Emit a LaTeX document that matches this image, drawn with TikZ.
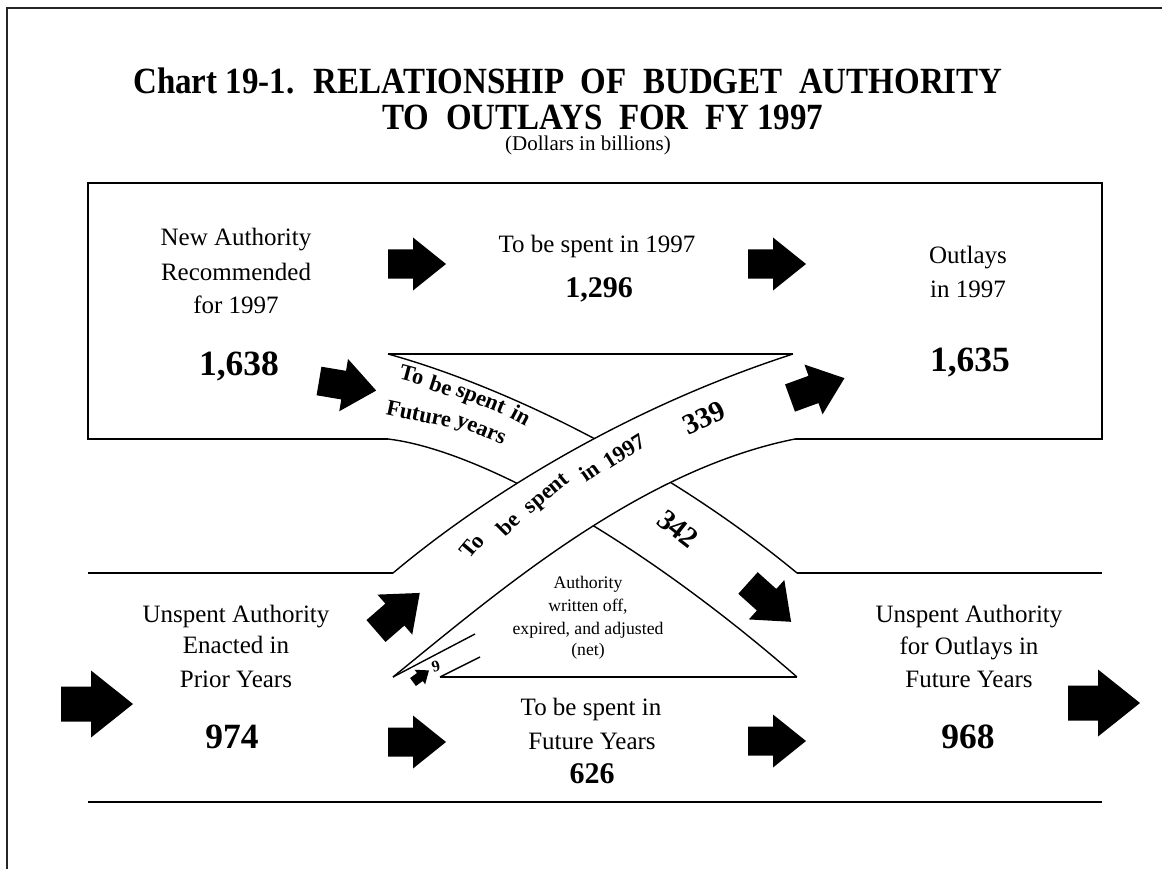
\documentclass[tikz,border=0pt]{standalone}
\usepackage{graphicx}
\usepackage{fontspec}
\setmainfont{Liberation Serif}
\newcommand\myfs[2]{\fontsize{#1}{#2}\selectfont}
\newcommand\tallbox[1]{\scalebox{1}[1.12]{#1}}
\tikzset{
  smallarrow/.pic={\fill (0,-14.5) -- (25,-14.5) -- (25,-26.5) -- (58,0) -- (25,26.5) -- (25,14.5) -- (0,14.5) -- cycle;},
  bigarrow/.pic={\fill (0,-17.5) -- (30,-17.5) -- (30,-33.5) -- (72,0) -- (30,33.5) -- (30,17.5) -- (0,17.5) -- cycle;},
  txt/.style={inner sep=0pt, anchor=base, font=\myfs{25}{30}},
  smalltxt/.style={inner sep=0pt, anchor=base, font=\myfs{17.7}{22}},
  bignum/.style={inner sep=0pt, anchor=base, font=\bfseries\myfs{35.5}{40}},
  midnum/.style={inner sep=0pt, anchor=base, font=\bfseries\myfs{30}{34}},
  titletxt/.style={inner sep=0pt, anchor=base, font=\bfseries\myfs{33}{38}},
  bandtxt/.style={inner sep=0pt, font=\bfseries\myfs{22.5}{24}},
  bandnum/.style={inner sep=0pt, font=\bfseries\myfs{29}{32}},
  frame/.style={line width=2pt, black!85},
  edge/.style={line width=1.4pt, black},
}
\begin{document}
\begin{tikzpicture}[x=1pt, y=-1pt]
\useasboundingbox (0,0) rectangle (1162,869);
% outer frame
\draw[frame] (1162,8) -- (7,8) -- (7,869);
% top box
\draw[edge] (388,439) -- (88,439) -- (88,183) -- (1102,183) -- (1102,439) -- (795,439);
% lower region lines
\draw[edge] (88,573) -- (393,573);
\draw[edge] (797,573) -- (1102,573);
\draw[edge] (88,802) -- (1102,802);
% band A (to future years)
\draw[edge] (388,354) -- (793,354);
\draw[edge] (388,354) .. controls (500,385) and (660,460) .. (797,573);
\draw[edge] (388,439) .. controls (480,450) and (640,540) .. (797,677);
\draw[edge] (440,677) -- (797,677);
% small wedge
\draw[edge] (393,677) -- (475,634);
\draw[edge] (440,677) -- (480,657);
% band B (to be spent in 1997), on top
\fill[white] (393,573) .. controls (480,500) and (620,410) .. (793,354) -- (795,439) .. controls (640,470) and (500,590) .. (393,677) -- cycle;
\draw[edge] (393,573) .. controls (480,500) and (620,410) .. (793,354);
\draw[edge] (393,677) .. controls (500,590) and (640,470) .. (795,439);
% arrows
\pic[rotate=0] at (388,264) {smallarrow};
\pic[rotate=0] at (748,264) {smallarrow};
\pic[rotate=-9.5] at (319,381) {smallarrow};
\pic[rotate=20] at (790,398) {smallarrow};
\pic[rotate=-42] at (748,583) {smallarrow};
\pic[rotate=41] at (376,631) {smallarrow};
\pic[rotate=0] at (388,742) {smallarrow};
\pic[rotate=0] at (748,741) {smallarrow};
\pic[rotate=0] at (61,704) {bigarrow};
\pic[rotate=0] at (1068,703) {bigarrow};
\pic[rotate=36, scale=0.34] at (413,682) {smallarrow};
% title
\node[titletxt] (t1) at (568,94) {\tallbox{Chart 19-1.~ RELATIONSHIP~ OF~ BUDGET~ AUTHORITY}};
\node[titletxt] (t2) at (603,130) {\tallbox{TO~ OUTLAYS~ FOR~ FY 1997}};
\node[inner sep=0pt, anchor=base, font=\myfs{21}{24}] (t3) at (588,151) {(Dollars in billions)};
% top row texts
\node[txt] (na1) at (236,246) {New Authority};
\node[txt] (na2) at (236,280) {Recommended};
\node[txt] (na3) at (236,313) {for 1997};
\node[bignum] (na4) at (239,375) {1,638};
\node[txt] (sp1) at (597,253) {To be spent in 1997};
\node[midnum] (sp2) at (599,297) {1,296};
\node[txt] (ou1) at (968,263) {Outlays};
\node[txt] (ou2) at (968,297) {in 1997};
\node[bignum] (ou3) at (970,371) {1,635};
% bottom row texts
\node[txt] (ua1) at (236,622) {Unspent Authority};
\node[txt] (ua2) at (236,653) {Enacted in};
\node[txt] (ua3) at (236,687) {Prior Years};
\node[bignum] (ua4) at (232,748) {974};
\node[txt] (fy1) at (591,715) {To be spent in};
\node[txt] (fy2) at (592,749) {Future Years};
\node[midnum] (fy3) at (592,783) {626};
\node[txt] (uf1) at (969,622) {Unspent Authority};
\node[txt] (uf2) at (969,654) {for Outlays in};
\node[txt] (uf3) at (969,687) {Future Years};
\node[bignum] (uf4) at (968,748) {968};
\node[smalltxt] (aw1) at (588,588) {Authority};
\node[smalltxt] (aw2) at (588,611) {written off,};
\node[smalltxt] (aw3) at (588,634) {expired, and adjusted};
\node[smalltxt] (aw4) at (588,655) {(net)};
% band A text
\node[bandtxt, rotate=-15] (ba1) at (412,375) {To};
\node[bandtxt, rotate=-18] (ba2) at (441,386) {be};
\node[bandtxt, rotate=-22] (ba3) at (480,401) {spent};
\node[bandtxt, rotate=-28] (ba4) at (521,415) {in};
\node[bandtxt, rotate=-12] (ba5) at (419,414) {Future};
\node[bandtxt, rotate=-22] (ba6) at (480,432) {years};
\node[bandnum, rotate=-38] (ba7) at (678,529) {342};
% band B text
\node[bandtxt, rotate=50] (bb1) at (472,546) {To};
\node[bandtxt, rotate=45] (bb2) at (508,524) {be};
\node[bandtxt, rotate=40] (bb3) at (548,495) {spent};
\node[bandtxt, rotate=35] (bb4) at (589,471) {in};
\node[bandtxt, rotate=32] (bb5) at (624,451) {1997};
\node[bandnum, rotate=25] (bb6) at (704,418) {339};
% small 9
\node[inner sep=0pt, font=\bfseries\myfs{16}{18}, rotate=15] (nine) at (436,666) {9};
\end{tikzpicture}
\end{document}
